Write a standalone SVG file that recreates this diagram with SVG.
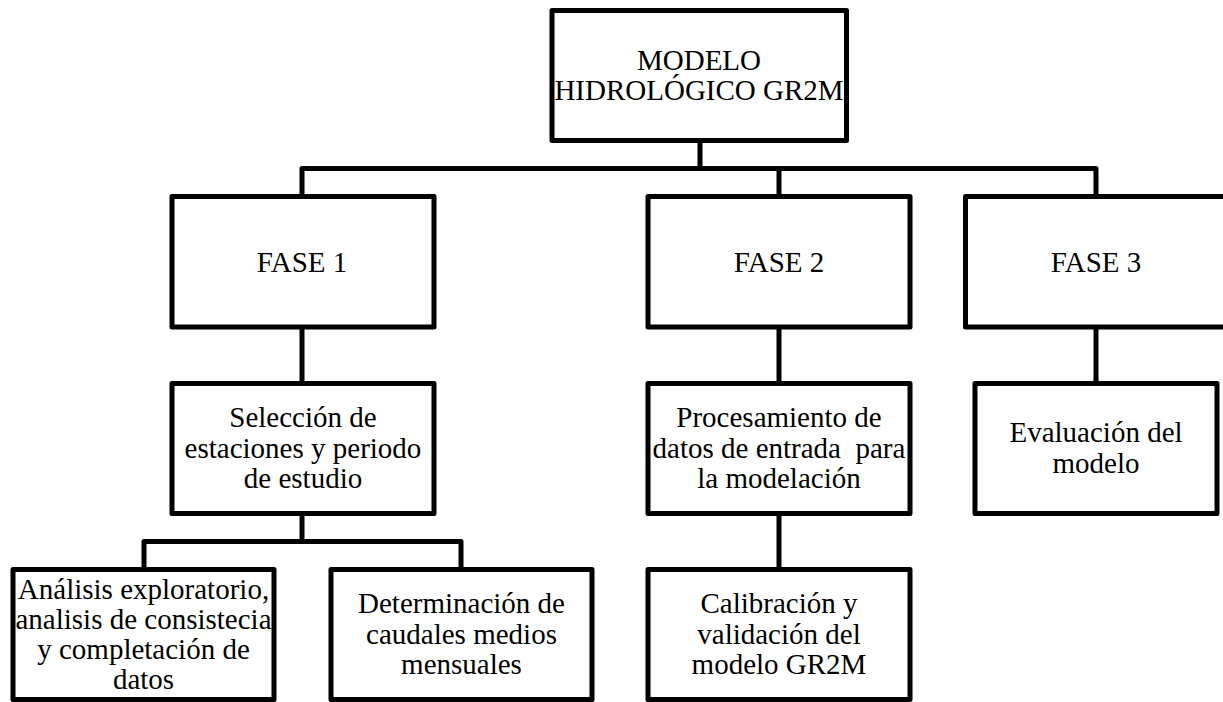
<svg xmlns="http://www.w3.org/2000/svg" width="1223" height="702" viewBox="0 0 1223 702">
<style>
  .box { fill: #ffffff; stroke: #000000; stroke-width: 5; stroke-linejoin: round; }
  .conn { fill: none; stroke: #000000; stroke-width: 5; stroke-linejoin: round; }
  .t { font-family: "Liberation Serif", "Times New Roman", serif; font-size: 29px; fill: #000000; text-anchor: middle; white-space: pre; }
</style>
<rect width="1223" height="702" fill="#ffffff"/>
<g id="connectors">
  <path class="conn" d="M700 140.5 V168.5"/>
  <path class="conn" d="M302 196.5 V168.5 H1096 V196.5"/>
  <path class="conn" d="M779 168.5 V196.5"/>
  <path class="conn" d="M302 327 V383.5"/>
  <path class="conn" d="M779 327 V383.5"/>
  <path class="conn" d="M1096 327 V383.5"/>
  <path class="conn" d="M302 513.5 V541.5"/>
  <path class="conn" d="M144 569.5 V541.5 H461 V569.5"/>
  <path class="conn" d="M779 513.5 V569.5"/>
</g>
<g id="modelo">
  <rect class="box" x="552" y="10.5" width="294.5" height="130"/>
  <text class="t" x="699" y="70">MODELO</text>
  <text class="t" x="699" y="99.5">HIDROLÓGICO GR2M</text>
</g>
<g id="fase1">
  <rect class="box" x="172" y="196.5" width="262" height="130.5"/>
  <text class="t" x="302" y="271.5">FASE 1</text>
</g>
<g id="fase2">
  <rect class="box" x="648" y="196.5" width="262" height="130.5"/>
  <text class="t" x="779" y="271.5">FASE 2</text>
</g>
<g id="fase3">
  <rect class="box" x="965.5" y="196.5" width="261" height="130.5"/>
  <text class="t" x="1096" y="271.5">FASE 3</text>
</g>
<g id="seleccion">
  <rect class="box" x="172" y="383.5" width="262" height="130"/>
  <text class="t" x="303" y="427">Selección de</text>
  <text class="t" x="303" y="457.5">estaciones y periodo</text>
  <text class="t" x="303" y="488">de estudio</text>
</g>
<g id="procesamiento">
  <rect class="box" x="648" y="383.5" width="262" height="130"/>
  <text class="t" x="779" y="427">Procesamiento de</text>
  <text class="t" x="779" y="457.5" xml:space="preserve">datos de entrada  para</text>
  <text class="t" x="779" y="488">la modelación</text>
</g>
<g id="evaluacion">
  <rect class="box" x="975" y="383.5" width="242" height="130"/>
  <text class="t" x="1096" y="442">Evaluación del</text>
  <text class="t" x="1096" y="472.5">modelo</text>
</g>
<g id="analisis">
  <rect class="box" x="13" y="569.5" width="261" height="130"/>
  <text class="t" x="143.5" y="598.5">Análisis exploratorio,</text>
  <text class="t" x="143.5" y="628.5">analisis de consistecia</text>
  <text class="t" x="143.5" y="658.5">y completación de</text>
  <text class="t" x="143.5" y="688.5">datos</text>
</g>
<g id="determinacion">
  <rect class="box" x="331" y="569.5" width="261" height="130"/>
  <text class="t" x="461.5" y="613">Determinación de</text>
  <text class="t" x="461.5" y="643.5">caudales medios</text>
  <text class="t" x="461.5" y="674">mensuales</text>
</g>
<g id="calibracion">
  <rect class="box" x="648" y="569.5" width="262" height="130"/>
  <text class="t" x="779" y="613">Calibración y</text>
  <text class="t" x="779" y="643.5">validación del</text>
  <text class="t" x="779" y="673.5">modelo GR2M</text>
</g>
</svg>
